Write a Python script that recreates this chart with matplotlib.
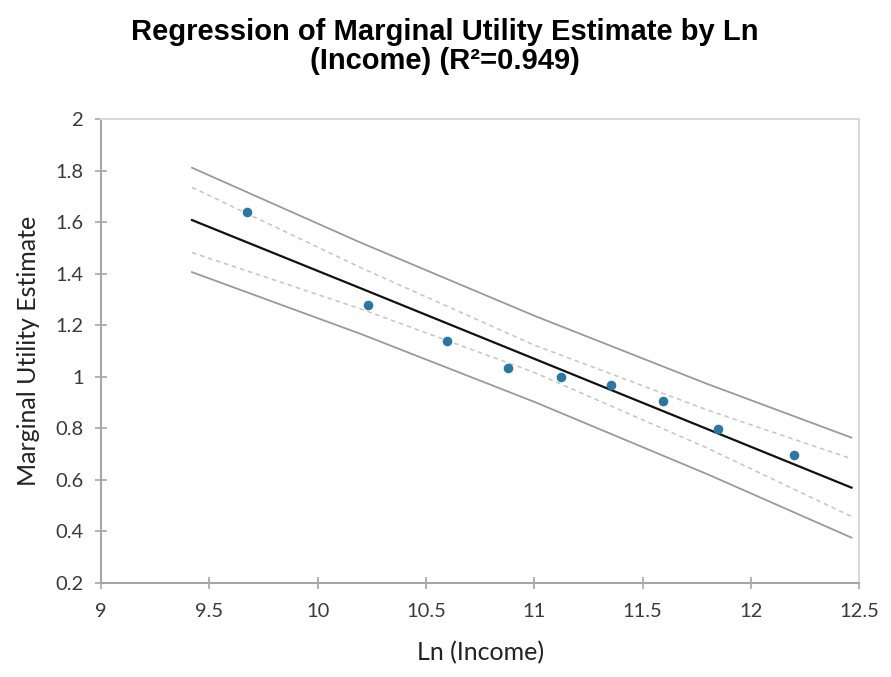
import matplotlib
matplotlib.use("Agg")
import matplotlib.pyplot as plt

# Observations: Ln(Income) vs marginal utility estimate
ln_income = [9.676, 10.233, 10.596, 10.877, 11.125, 11.355, 11.594, 11.847, 12.20]
mu_estimate = [1.640, 1.280, 1.137, 1.036, 0.998, 0.967, 0.905, 0.796, 0.696]

# Fitted line and bands at a few x positions
band_x = [9.42, 10.2, 11.0, 11.8, 12.465]
fit_y = [1.608, 1.343, 1.070, 0.797, 0.570]
conf_upper = [1.735, 1.423, 1.123, 0.871, 0.682]
conf_lower = [1.482, 1.263, 1.017, 0.723, 0.458]
pred_upper = [1.811, 1.520, 1.237, 0.972, 0.764]
pred_lower = [1.406, 1.166, 0.903, 0.622, 0.376]

x_ticks = [9, 9.5, 10, 10.5, 11, 11.5, 12, 12.5]
x_ticklabels = ["9", "9.5", "10", "10.5", "11", "11.5", "12", "12.5"]
y_ticks = [0.2, 0.4, 0.6, 0.8, 1.0, 1.2, 1.4, 1.6, 1.8, 2.0]
y_ticklabels = ["0.2", "0.4", "0.6", "0.8", "1", "1.2", "1.4", "1.6", "1.8", "2"]

plt.rcParams["font.family"] = ["Lato", "DejaVu Sans"]

fig = plt.figure(figsize=(8.91, 6.77), dpi=100)
ax = fig.add_axes([0.1134, 0.1388, 0.8508, 0.6854])

# prediction interval
ax.plot(band_x, pred_upper, color="#9a9a9a", lw=1.3)
ax.plot(band_x, pred_lower, color="#9a9a9a", lw=1.3)
# confidence interval
ax.plot(band_x, conf_upper, color="#c4c4c4", lw=1.1, linestyle=(0, (3, 2.5)))
ax.plot(band_x, conf_lower, color="#c4c4c4", lw=1.1, linestyle=(0, (3, 2.5)))
# regression line
ax.plot(band_x, fit_y, color="#111111", lw=1.6)

ax.scatter(ln_income, mu_estimate, s=48, color="#2b77a3", zorder=5, linewidths=0)

ax.set_xlim(9, 12.5)
ax.set_ylim(0.2, 2.0)
ax.set_xticks(x_ticks)
ax.set_xticklabels(x_ticklabels)
ax.set_yticks(y_ticks)
ax.set_yticklabels(y_ticklabels)
ax.tick_params(direction="inout", length=9, width=1.2, color="#a6a6a6",
               labelsize=14.5, labelcolor="#3a3a3a")
ax.tick_params(axis="x", pad=10)
ax.tick_params(axis="y", pad=8)

for side in ["left", "bottom"]:
    ax.spines[side].set_color("#a6a6a6")
    ax.spines[side].set_linewidth(1.5)
for side in ["top", "right"]:
    ax.spines[side].set_color("#d9d9d9")
    ax.spines[side].set_linewidth(1.5)

ax.set_xlabel("Ln (Income)", fontsize=18, color="#222222", labelpad=15)
ax.set_ylabel("Marginal Utility Estimate", fontsize=18, color="#222222", labelpad=11)

fig.suptitle("Regression of Marginal Utility Estimate by Ln\n(Income) (R²=0.949)",
             x=0.499, y=0.973, fontsize=21, fontweight="bold", linespacing=1.05,
             family=["Liberation Sans", "DejaVu Sans"])

fig.savefig("out.png", dpi=100)
